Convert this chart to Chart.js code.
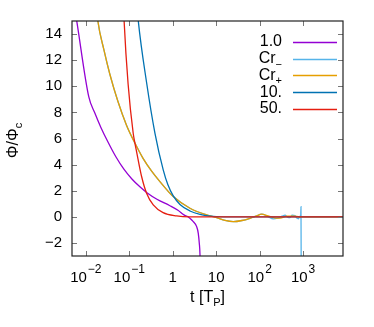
<!DOCTYPE html>
<html>
<head>
<meta charset="utf-8">
<script src="https://cdn.jsdelivr.net/npm/chart.js@4"></script>
<style>
  html, body { margin: 0; padding: 0; background: #fff; }
</style>
</head>
<body>
<canvas id="myChart" width="374" height="327"></canvas>
<script>
// x axis: t [T_P], log scale
const xTicks = [0.01, 0.1, 1, 10, 100, 1000];
const xTickBase = ['10', '10', '1', '10', '10', '10'];
const xTickExp = ['−2', '−1', '', '', '2', '3'];
const yTicks = [-2, 0, 2, 4, 6, 8, 10, 12, 14];

// 1.0
const tPurple = [0.0055, 0.0061, 0.0117, 0.0161, 0.0222, 0.0321, 0.0491, 0.0751, 0.1148, 0.1754, 0.2545, 0.4327, 0.861, 1.318, 1.813, 2.24, 2.97, 3.55, 3.87, 4.08, 4.24, 4.30];
const vPurple = [16.0, 15.1, 9.18, 7.95, 6.85, 5.75, 4.6, 3.65, 2.9, 2.3, 1.85, 1.35, 0.85, 0.5, 0.15, 0.0, -0.37, -0.75, -1.26, -2.0, -2.9, -4.0];

// Cr+
const tOrange = [0.017, 0.0189, 0.026, 0.0357, 0.0546, 0.0867, 0.1346, 0.2056, 0.3266, 0.507, 1.027, 2.49, 6.04, 10.27, 15.96, 24.8, 39.3, 60.1, 82.6, 111.7, 148, 207, 295, 428, 589, 853, 8300];
const vOrange = [16.5, 15.0, 12.8, 10.92, 8.85, 7.0, 5.65, 4.5, 3.5, 2.7, 1.55, 0.66, 0.15, -0.06, -0.28, -0.37, -0.28, -0.11, 0.05, 0.2, 0.1, -0.06, -0.1, 0.05, 0.05, 0.0, 0.0];

// Cr_ (same as Cr+ up to ~80, then wiggles and a spike)
const tLight = [0.017, 0.0189, 0.026, 0.0357, 0.0546, 0.0867, 0.1346, 0.2056, 0.3266, 0.507, 1.027, 2.49, 6.04, 10.27, 15.96, 24.8, 39.3, 60.1, 82.6, 111.7, 150, 207, 260, 330, 385, 440, 501, 560, 655, 720, 780, 850, 880, 895, 905];
const vLight = [16.5, 15.0, 12.8, 10.92, 8.85, 7.0, 5.65, 4.5, 3.5, 2.7, 1.55, 0.66, 0.15, -0.06, -0.28, -0.37, -0.28, -0.11, 0.05, 0.2, 0.05, -0.16, -0.1, 0.05, 0.12, -0.02, -0.06, 0.12, 0.1, -0.1, -0.15, 0.05, -0.1, 0.78, -4.0];

// 10.
const tBlue = [0.152, 0.160, 0.251, 0.389, 0.604, 0.774, 1.027, 1.466, 2.49, 4.24, 7.19, 15, 8300];
const vBlue = [16.0, 15.1, 10.25, 6.42, 3.6, 2.45, 1.6, 0.95, 0.45, 0.18, 0.05, 0.0, 0.0];

// 50.
const tRed = [0.074, 0.076, 0.094, 0.123, 0.1346, 0.147, 0.192, 0.25, 0.356, 0.6, 1.23, 2.5, 8300];
const vRed = [16.0, 15.0, 10.15, 6.4, 5.65, 5.0, 3.09, 1.81, 0.91, 0.32, 0.07, 0.0, 0.0];

const seriesNames = ['1.0', 'Cr', 'Cr', '10.', '50.'];
const seriesSubs = ['', '−', '+', '', ''];
const seriesColors = ['#9400d3', '#56b4e9', '#e69f00', '#0072b2', '#e51e10'];

function pts(t, v) {
  return t.map((x, i) => ({ x: x, y: v[i] }));
}

const tickFont = '15px "Liberation Sans", Arial, sans-serif';
const supFont = '12px "Liberation Sans", Arial, sans-serif';
const keyFont = '16px "Liberation Sans", Arial, sans-serif';
const keySubFont = '11px "Liberation Sans", Arial, sans-serif';

const gnuplotFrame = {
  id: 'gnuplotFrame',
  afterDraw(chart) {
    const ctx = chart.ctx;
    const a = chart.chartArea;
    const xs = chart.scales.x, ys = chart.scales.y;
    ctx.save();

    // tick marks, inward on all four sides
    ctx.strokeStyle = '#777';
    ctx.lineWidth = 1;
    ctx.beginPath();
    xTicks.forEach(v => {
      const px = Math.round(xs.getPixelForValue(v)) + 0.5;
      ctx.moveTo(px, a.bottom); ctx.lineTo(px, a.bottom - 5);
      ctx.moveTo(px, a.top); ctx.lineTo(px, a.top + 5);
    });
    yTicks.forEach(v => {
      const py = Math.round(ys.getPixelForValue(v)) + 0.5;
      ctx.moveTo(a.left, py); ctx.lineTo(a.left + 5, py);
      ctx.moveTo(a.right, py); ctx.lineTo(a.right - 5, py);
    });
    ctx.stroke();

    // border
    ctx.strokeStyle = '#222';
    ctx.lineWidth = 1.2;
    ctx.strokeRect(a.left, a.top, a.right - a.left, a.bottom - a.top);

    ctx.fillStyle = '#000';

    // y tick labels
    ctx.font = tickFont;
    ctx.textAlign = 'right';
    ctx.textBaseline = 'middle';
    yTicks.forEach(v => {
      const py = ys.getPixelForValue(v);
      const s = v < 0 ? '−' + Math.abs(v) : String(v);
      ctx.fillText(s, a.left - 10, py);
    });

    // x tick labels with exponents
    ctx.textBaseline = 'alphabetic';
    ctx.textAlign = 'left';
    xTicks.forEach((v, i) => {
      const px = xs.getPixelForValue(v);
      ctx.font = tickFont;
      const wb = ctx.measureText(xTickBase[i]).width;
      ctx.font = supFont;
      const we = xTickExp[i] ? ctx.measureText(xTickExp[i]).width + 1 : 0;
      const x0 = px - (wb + we) / 2;
      const base = a.bottom + 26;
      ctx.font = tickFont;
      ctx.fillText(xTickBase[i], x0, base);
      if (xTickExp[i]) {
        ctx.font = supFont;
        ctx.fillText(xTickExp[i], x0 + wb + 1, base - 9);
      }
    });

    // x title: t [T_P]
    ctx.font = keyFont;
    const p1 = 't [T', p2 = 'P', p3 = ']';
    const w1 = ctx.measureText(p1).width;
    ctx.font = keySubFont;
    const w2 = ctx.measureText(p2).width;
    ctx.font = keyFont;
    const w3 = ctx.measureText(p3).width;
    let xt = (a.left + a.right) / 2 - (w1 + w2 + w3) / 2;
    const bt = a.bottom + 46;
    ctx.fillText(p1, xt, bt);
    ctx.font = keySubFont;
    ctx.fillText(p2, xt + w1, bt + 4);
    ctx.font = keyFont;
    ctx.fillText(p3, xt + w1 + w2, bt);

    // y title: Phi/Phi_c, rotated
    ctx.save();
    ctx.translate(18, (a.top + a.bottom) / 2 + 2);
    ctx.rotate(-Math.PI / 2);
    ctx.font = keyFont;
    const q1 = 'Φ/Φ', q2 = 'c';
    const wq1 = ctx.measureText(q1).width;
    ctx.font = keySubFont;
    const wq2 = ctx.measureText(q2).width;
    const xq = -(wq1 + wq2) / 2;
    ctx.font = keyFont;
    ctx.fillText(q1, xq, 0);
    ctx.font = keySubFont;
    ctx.fillText(q2, xq + wq1, 4);
    ctx.restore();

    // key, top right inside the plot
    const keyRight = 282, lineX0 = 293, lineX1 = 337;
    seriesNames.forEach((name, i) => {
      const y = 42 + i * 16.7;
      ctx.font = keyFont;
      const wn = ctx.measureText(name).width;
      ctx.font = keySubFont;
      const ws = seriesSubs[i] ? ctx.measureText(seriesSubs[i]).width : 0;
      const x0 = keyRight - wn - ws;
      ctx.textBaseline = 'middle';
      ctx.font = keyFont;
      ctx.fillText(name, x0, y);
      if (seriesSubs[i]) {
        ctx.font = keySubFont;
        ctx.fillText(seriesSubs[i], x0 + wn, y + 6);
      }
      ctx.strokeStyle = seriesColors[i];
      ctx.lineWidth = 1.5;
      ctx.beginPath();
      ctx.moveTo(lineX0, Math.round(y) + 0.5);
      ctx.lineTo(lineX1, Math.round(y) + 0.5);
      ctx.stroke();
    });
    ctx.restore();
  }
};

const ctx = document.getElementById('myChart').getContext('2d');
const myChart = new Chart(ctx, {
  type: 'line',
  data: {
    datasets: [
      { label: '1.0', data: pts(tPurple, vPurple), borderColor: seriesColors[0], order: 5 },
      { label: 'Cr_', data: pts(tLight, vLight), borderColor: seriesColors[1], order: 4 },
      { label: 'Cr+', data: pts(tOrange, vOrange), borderColor: seriesColors[2], order: 3 },
      { label: '10.', data: pts(tBlue, vBlue), borderColor: seriesColors[3], order: 2 },
      { label: '50.', data: pts(tRed, vRed), borderColor: seriesColors[4], order: 1 }
    ]
  },
  options: {
    responsive: false,
    animation: false,
    devicePixelRatio: 1,
    layout: { padding: { top: 21, right: 31, bottom: 0, left: 0 } },
    elements: {
      point: { radius: 0, hoverRadius: 0 },
      line: { borderWidth: 1.3, cubicInterpolationMode: 'monotone', fill: false }
    },
    plugins: {
      legend: { display: false },
      tooltip: { enabled: false }
    },
    scales: {
      x: {
        type: 'logarithmic',
        min: 0.0048,
        max: 8300,
        grid: { display: false },
        border: { display: false },
        ticks: { display: false },
        afterFit: s => { s.height = 71; }
      },
      y: {
        type: 'linear',
        min: -3,
        max: 15,
        grid: { display: false },
        border: { display: false },
        ticks: { display: false },
        afterFit: s => { s.width = 72; }
      }
    }
  },
  plugins: [gnuplotFrame]
});
</script>
</body>
</html>
